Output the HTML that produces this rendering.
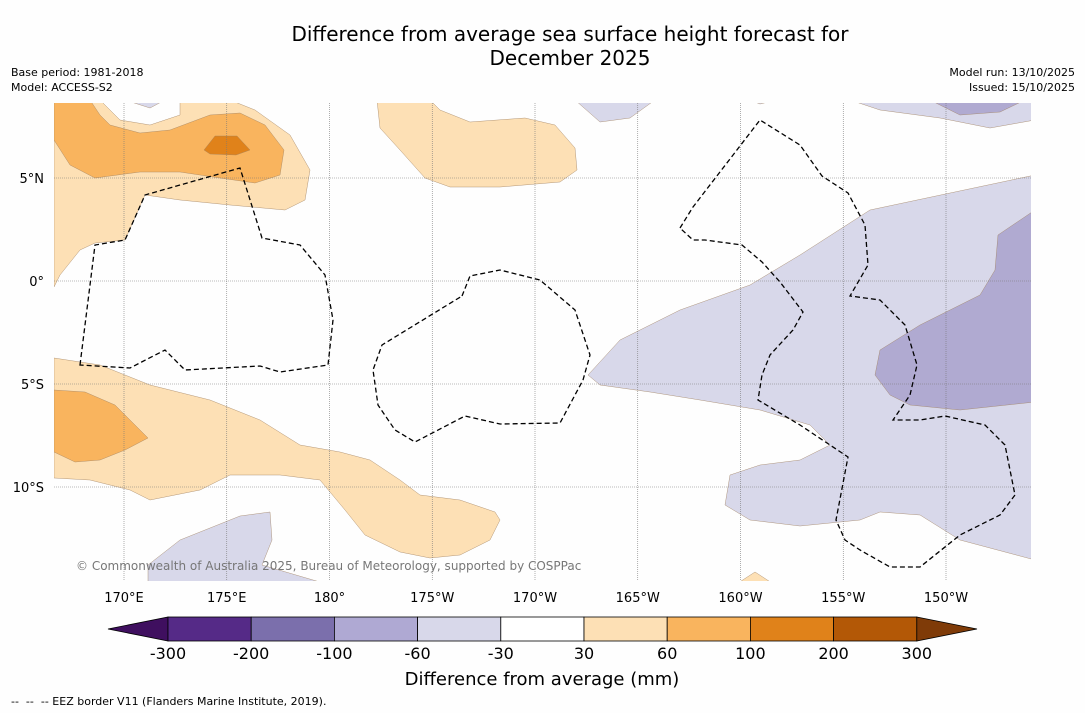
<!DOCTYPE html>
<html><head><meta charset="utf-8"><style>
body{margin:0;background:#fff;font-family:"DejaVu Sans","Liberation Sans",sans-serif;}
#wrap{position:relative;width:1085px;height:713px;background:#fefefe;overflow:hidden}
.t{position:absolute;font-size:11px;color:#000}
svg text{font-family:"DejaVu Sans","Liberation Sans",sans-serif}
</style></head><body>
<div id="wrap">
<div class="t" style="left:0;width:1140px;top:22px;text-align:center;font-size:20px;line-height:24px">Difference from average sea surface height forecast for<br>December 2025</div>
<div class="t" style="left:11px;top:65px;line-height:15px">Base period: 1981-2018<br>Model: ACCESS-S2</div>
<div class="t" style="right:10px;top:65px;line-height:15px;text-align:right">Model run: 13/10/2025<br>Issued: 15/10/2025</div>
<svg id="svg" width="1085" height="713" style="position:absolute;left:0;top:0"></svg>
<div class="t" style="left:11px;top:695px;font-size:11px">-- &nbsp;-- &nbsp;-- EEZ border V11 (Flanders Marine Institute, 2019).</div>
</div>
<script>
const lonTicks=["170°E","175°E","180°","175°W","170°W","165°W","160°W","155°W","150°W"];
const lonVals=[170,175,180,185,190,195,200,205,210];
const latTicks=["5°N","0°","5°S","10°S"];
const latVals=[5,0,-5,-10];
const cbTicks=["-300","-200","-100","-60","-30","30","60","100","200","300"];
const cbColors=["#552a87","#7b6fac","#afa9d3","#d8d8ea","#ffffff","#fde0b5","#f9b45e","#e0821a","#b35806"];
const X=lon=>124+(lon-170)*20.55;
const Y=lat=>281-lat*20.6;
const NS="http://www.w3.org/2000/svg";
const svg=document.getElementById('svg');
function mk(t,a,p){const e=document.createElementNS(NS,t);for(const k in a)e.setAttribute(k,a[k]);(p||svg).appendChild(e);return e;}
const clip=mk('clipPath',{id:'mc'});mk('rect',{x:54,y:103,width:977,height:478},clip);
const g=mk('g',{'clip-path':'url(#mc)'});


const regions=[
["#fde0b5","54,287 60,275 80,250 95,243 125,240 145,195 180,200 230,205 285,210 305,200 310,170 290,135 255,110 230,100 180,100 180,115 150,125 120,120 100,100 54,100","anomaly-30-60-north"],
["#f9b45e","54,100 54,140 70,165 95,178 140,172 180,172 220,178 255,183 280,175 284,150 265,125 240,113 210,115 170,130 140,133 110,125 100,115 90,100","anomaly-60-100-north"],
["#e0821a","204,150 215,136 237,136 250,150 236,155 210,154","anomaly-100-200"],
["#fde0b5","377,100 430,100 440,110 470,122 525,118 555,125 575,148 577,170 560,182 500,187 450,187 425,178 400,150 380,128","anomaly-30-60-central"],
["#fde0b5","54,358 100,365 150,385 210,400 260,420 300,445 340,452 370,460 400,480 420,495 460,500 495,512 500,520 490,540 460,555 430,558 400,552 365,535 345,510 320,480 280,475 230,475 200,490 150,500 130,490 90,480 54,478","anomaly-30-60-south"],
["#f9b45e","54,390 85,392 115,405 148,438 125,450 100,460 75,462 54,452","anomaly-60-100-south"],
["#d8d8ea","588,375 620,340 680,310 750,285 800,255 870,210 1035,175 1035,560 960,540 920,515 880,512 860,520 800,526 750,520 725,505 730,475 760,465 800,460 830,445 810,425 760,410 700,400 650,392 600,385","anomaly-neg-east"],
["#b0aad1","875,375 880,350 920,325 980,295 995,270 998,235 1035,210 1035,402 960,410 910,405 890,395","anomaly-neg-60-100"],
["#d8d8ea","575,100 655,100 630,118 600,122","anomaly-neg-top1"],
["#d8d8ea","850,100 1035,100 1035,120 990,128 940,118 880,110","anomaly-neg-top2"],
["#b0aad1","930,100 1025,100 1000,112 960,115","anomaly-neg-top3"],
["#d8d8ea","125,100 165,100 150,108","anomaly-neg-top4"],
["#d8d8ea","750,100 776,100 760,104","anomaly-neg-top5"],
["#d8d8ea","148,565 180,540 240,516 270,512 272,540 262,565 330,585 148,585","anomaly-neg-sw"],
["#fde0b5","735,585 755,572 775,585","anomaly-pos-se"]];
regions.forEach(r=>{const p=mk('polygon',{points:r[1],fill:r[0],stroke:'#a08060','stroke-width':0.4},g);

});
lonVals.forEach((v,i)=>{const l=mk('line',{x1:X(v),x2:X(v),y1:103,y2:581,stroke:'#777','stroke-width':0.6,'stroke-dasharray':'1,1'},g);


const t=mk('text',{x:X(v),y:602,'text-anchor':'middle','font-size':13});t.textContent=lonTicks[i];

});
latVals.forEach((v,i)=>{const l=mk('line',{x1:54,x2:1031,y1:Y(v),y2:Y(v),stroke:'#777','stroke-width':0.6,'stroke-dasharray':'1,1'},g);


const t=mk('text',{x:44,y:Y(v)+5,'text-anchor':'end','font-size':13});t.textContent=latTicks[i];

});
const eez=["80,365 95,245 125,240 145,195 240,168 262,238 300,245 325,275 333,320 328,365 280,372 260,366 185,370 165,350 130,368",
"462,296 470,276 500,270 540,280 575,310 590,355 583,380 560,423 500,424 465,416 415,442 395,430 378,405 373,370 382,345",
"680,228 693,207 760,120 800,145 822,176 848,193 865,225 868,265 850,296 880,300 905,325 917,365 910,395 893,420 920,420 945,416 985,425 1005,445 1015,495 1000,515 960,535 920,567 890,567 860,550 845,540 836,520 848,457 800,425 758,400 762,375 770,355 793,330 803,312 780,282 762,262 742,245 705,240 693,240"];
eez.forEach(p=>{const e=mk('polygon',{points:p,fill:'none',stroke:'#000','stroke-width':1.3,'stroke-dasharray':'5,3'},g);

});
const c=mk('text',{x:76,y:570,'font-size':12,fill:'#777'});c.textContent="© Commonwealth of Australia 2025, Bureau of Meteorology, supported by COSPPac";


const x0=168,w=83.2,yb=617,h=24;
const la=mk('polygon',{points:`108,629 ${x0},${yb} ${x0},${yb+h}`,fill:'#3f0f5f',stroke:'#000','stroke-width':0.8});


cbColors.forEach((col,i)=>{const r=mk('rect',{x:x0+i*w,y:yb,width:w,height:h,fill:col,stroke:'#000','stroke-width':0.8});

});
const ra=mk('polygon',{points:`${x0+9*w},${yb} 977,629 ${x0+9*w},${yb+h}`,fill:'#7f3b08',stroke:'#000','stroke-width':0.8});


cbTicks.forEach((t,i)=>{const e=mk('text',{x:x0+i*w,y:659,'text-anchor':'middle','font-size':16});e.textContent=t;

});
const ct=mk('text',{x:542,y:685,'text-anchor':'middle','font-size':18});ct.textContent="Difference from average (mm)";


</script>
</body></html>
